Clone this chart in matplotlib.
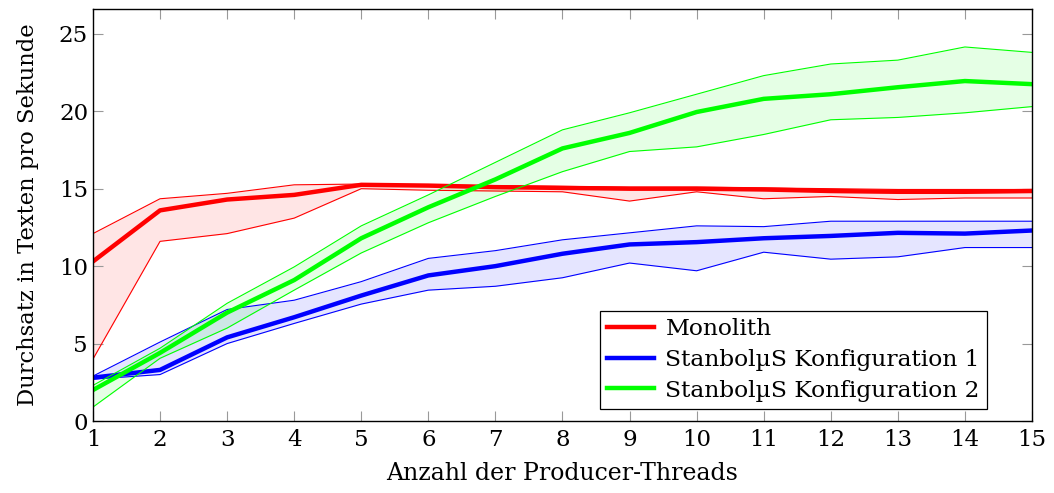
import numpy as np
import matplotlib
matplotlib.use("Agg")
import matplotlib.pyplot as plt

threads = list(range(1, 16))

mono_mean = [10.3, 13.6, 14.3, 14.6, 15.25, 15.2, 15.1, 15.05, 15.0, 15.0, 14.95, 14.85, 14.8, 14.8, 14.85]
mono_hi = [12.1, 14.35, 14.7, 15.25, 15.3, 15.25, 15.2, 15.15, 15.1, 15.1, 15.05, 15.0, 14.95, 14.95, 14.95]
mono_lo = [4.0, 11.6, 12.1, 13.1, 15.0, 14.9, 14.85, 14.8, 14.2, 14.8, 14.35, 14.5, 14.3, 14.4, 14.4]

cfg1_mean = [2.8, 3.3, 5.4, 6.7, 8.1, 9.4, 10.0, 10.8, 11.4, 11.55, 11.8, 11.95, 12.15, 12.1, 12.3]
cfg1_hi = [2.9, 5.1, 7.2, 7.8, 9.0, 10.5, 11.0, 11.7, 12.15, 12.6, 12.55, 12.9, 12.9, 12.9, 12.9]
cfg1_lo = [2.7, 3.0, 5.0, 6.3, 7.55, 8.45, 8.7, 9.25, 10.2, 9.7, 10.9, 10.45, 10.6, 11.2, 11.2]

cfg2_mean = [2.0, 4.4, 7.0, 9.1, 11.8, 13.8, 15.6, 17.6, 18.6, 19.95, 20.8, 21.1, 21.55, 21.95, 21.75]
cfg2_hi = [2.3, 4.7, 7.6, 9.95, 12.6, 14.6, 16.7, 18.8, 19.9, 21.1, 22.3, 23.05, 23.3, 24.15, 23.8]
cfg2_lo = [0.9, 4.05, 6.0, 8.45, 10.85, 12.8, 14.5, 16.1, 17.4, 17.7, 18.5, 19.45, 19.6, 19.9, 20.3]

labels = ["Monolith", "StanbolµS Konfiguration 1", "StanbolµS Konfiguration 2"]
colors = ["#ff0000", "#0000ff", "#00ff00"]

plt.rcParams['font.family'] = ['DejaVu Serif']

fig = plt.figure(figsize=(10.54, 4.93), dpi=100)
ax = fig.add_axes([0.0882, 0.146, 0.8909, 0.8357])

series = [(mono_mean, mono_lo, mono_hi), (cfg1_mean, cfg1_lo, cfg1_hi), (cfg2_mean, cfg2_lo, cfg2_hi)]
for (m, lo, hi), c, lab in zip(series, colors, labels):
    ax.fill_between(threads, lo, hi, color=c, alpha=0.1, linewidth=0)
    ax.plot(threads, lo, color=c, linewidth=0.8)
    ax.plot(threads, hi, color=c, linewidth=0.8)
    ax.plot(threads, m, color=c, linewidth=3.2, label=lab)

ax.set_xlim(1, 15)
ax.set_ylim(0, 26.6)
ax.set_xticks(threads)
ax.set_yticks([0, 5, 10, 15, 20, 25])
ax.tick_params(direction='in', length=7, width=0.8, color='#999999',
               top=True, right=True, labelsize=16.5)
ax.tick_params(axis='x', pad=6)
for s in ax.spines.values():
    s.set_linewidth(1.0)
ax.set_xlabel("Anzahl der Producer-Threads", fontsize=17, labelpad=8)
ax.set_ylabel("Durchsatz in Texten pro Sekunde", fontsize=16.3, labelpad=14)

leg = ax.legend(loc='lower right', bbox_to_anchor=(0.952, 0.03), fontsize=16.8,
                fancybox=False, edgecolor='black', framealpha=1,
                handlelength=2.0, handletextpad=0.5, borderpad=0.3,
                labelspacing=0.38, borderaxespad=0)
leg.get_frame().set_linewidth(0.9)

fig.savefig("out.png", dpi=100)
